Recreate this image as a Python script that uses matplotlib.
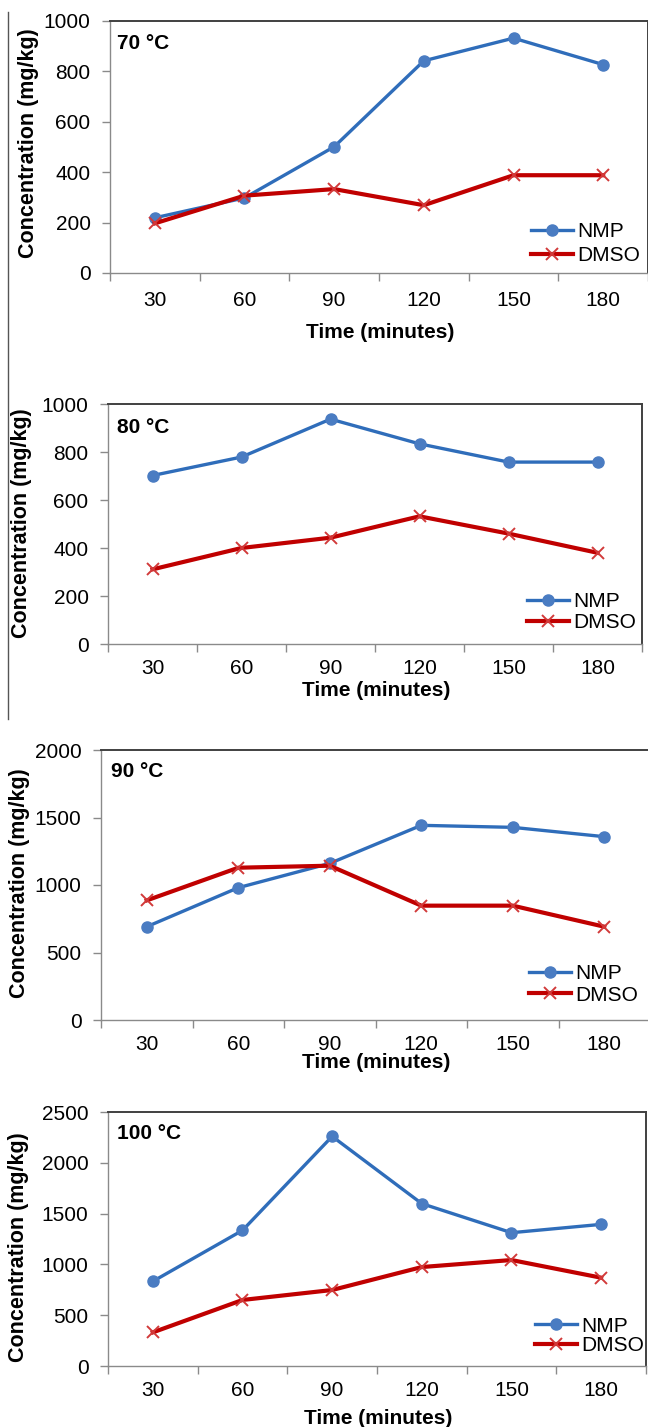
import matplotlib
matplotlib.use("Agg")
import matplotlib.pyplot as plt
from matplotlib.lines import Line2D
import numpy as np

plt.rcParams['font.family'] = ['Liberation Sans', 'DejaVu Sans']

# ---------------- data ----------------
times = ['30', '60', '90', '120', '150', '180']
series_names = ['NMP', 'DMSO']
panel_labels = ['70 °C', '80 °C', '90 °C', '100 °C']

nmp_70 = [219, 298, 501, 842, 932, 827]
dmso_70 = [197, 307, 333, 269, 388, 388]
nmp_80 = [702, 779, 937, 834, 758, 758]
dmso_80 = [311, 400, 443, 532, 460, 380]
nmp_90 = [691, 980, 1160, 1442, 1427, 1358]
dmso_90 = [886, 1128, 1143, 847, 847, 691]
nmp_100 = [833, 1335, 2260, 1598, 1312, 1394]
dmso_100 = [331, 650, 748, 974, 1043, 869]

y_max = [1000, 1000, 2000, 2500]
y_step = [200, 200, 500, 500]

# ---------------- layout ----------------
W, H = 648, 1427
fig = plt.figure(figsize=(W / 100, H / 100), dpi=100)

# axes boxes in pixels: left, top, right, bottom
boxes = [(110, 21, 648, 273), (108, 404, 642, 644),
         (101, 750, 650, 1020), (108, 1112, 646, 1366)]
ylab_pos = [(29, 143), (22, 523), (19.5, 883), (18.5, 1247)]
xlab_pos = [(380, 332), (376, 690), (376, 1063), (378, 1418)]
plab_pos = [(117, 49), (117, 433), (111, 777), (117, 1139)]
xtick_pad = [13, 10.5, 11, 11]
leg_pos = [(531, 243.5), (527, 612), (529, 984.5), (535, 1336)]
leg_spacing = [0.22, 0.08, 0.12, 0.02]

blue = '#2f6dba'
blue_m = '#4a7cc2'
red = '#c00000'
red_m = '#d23a3a'
grey = '#8a8a8a'
dark = '#404040'
FS = 15

data = [(nmp_70, dmso_70), (nmp_80, dmso_80), (nmp_90, dmso_90), (nmp_100, dmso_100)]

def fx(x):
    return x / W

def fy(y):
    return 1 - y / H

for i, (l, t, r, b) in enumerate(boxes):
    ax = fig.add_axes([fx(l), fy(b), (r - l) / W, (b - t) / H])
    x = np.arange(len(times))
    nmp, dmso = data[i]
    ax.plot(x, nmp, color=blue, lw=2.4, marker='o', ms=8, mfc=blue_m,
            mec=blue_m, label=series_names[0], zorder=3, clip_on=False)
    ax.plot(x, dmso, color=red, lw=3.0, marker='x', ms=8, mew=1.4,
            mec=red_m, label=series_names[1], zorder=4, clip_on=False)
    ax.set_xlim(-0.5, len(times) - 0.5)
    ax.set_ylim(0, y_max[i])
    ax.set_yticks(np.arange(0, y_max[i] + 1, y_step[i]))
    ax.set_xticks(x)
    ax.set_xticklabels(times)
    ax.set_xticks(np.arange(-0.5, len(times)), minor=True)
    ax.tick_params(axis='x', which='major', length=0, pad=xtick_pad[i],
                   labelsize=FS)
    ax.tick_params(axis='x', which='minor', length=6, width=1, color=grey,
                   direction='out')
    ax.tick_params(axis='y', length=6, width=1, color=grey, direction='out',
                   pad=8, labelsize=FS)
    for s in ['left', 'bottom']:
        ax.spines[s].set_color(grey)
        ax.spines[s].set_linewidth(1.0)
    for s in ['top', 'right']:
        ax.spines[s].set_color(dark)
        ax.spines[s].set_linewidth(1.4)

    fig.text(fx(ylab_pos[i][0]), fy(ylab_pos[i][1]), 'Concentration (mg/kg)',
             rotation=90, ha='center', va='center', fontsize=FS + 0.5,
             fontweight='bold')
    fig.text(fx(xlab_pos[i][0]), fy(xlab_pos[i][1]), 'Time (minutes)',
             ha='center', va='center', fontsize=FS, fontweight='bold')
    fig.text(fx(plab_pos[i][0]), fy(plab_pos[i][1]), panel_labels[i],
             ha='left', va='baseline', fontsize=FS, fontweight='bold')

    ax.legend(loc='center left', bbox_to_anchor=(fx(leg_pos[i][0]), fy(leg_pos[i][1])),
              bbox_transform=fig.transFigure, frameon=False, fontsize=FS,
              borderpad=0, borderaxespad=0, handlelength=2.0,
              handletextpad=0.2, labelspacing=leg_spacing[i])

# vertical separator line at the left
fig.add_artist(Line2D([fx(8), fx(8)], [fy(12), fy(719)], color='#555555', lw=1.0))

fig.savefig('out.png', dpi=100)
